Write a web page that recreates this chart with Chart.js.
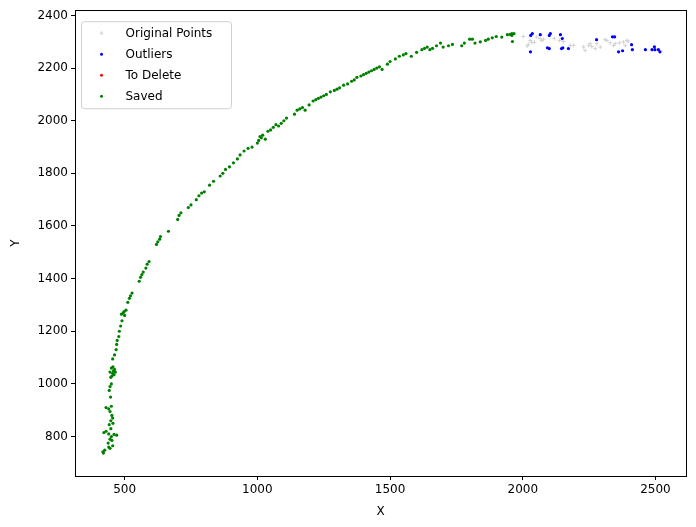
<!DOCTYPE html>
<html>
<head>
<meta charset="utf-8">
<script src="https://cdn.jsdelivr.net/npm/chart.js@4"></script>
<style>
  body { margin: 0; background: #fff; }
  #wrap { width: 696px; height: 527px; }
</style>
</head>
<body>
<div id="wrap"><canvas id="myChart" width="696" height="527"></canvas></div>
<script>
// tick labels
const xTicks = [500, 1000, 1500, 2000, 2500];
const yTicks = [800, 1000, 1200, 1400, 1600, 1800, 2000, 2200, 2400];

// original points (only the visible ones, the rest are hidden under the saved ones)
const originalX = [2002, 2021, 2017, 2028, 2034, 2044, 2053, 2065, 2072, 2078, 2119, 2138, 2153, 2179, 2191, 2229, 2235, 2248, 2254, 2260, 2273, 2279, 2292, 2310, 2317, 2329, 2342, 2348, 2364, 2379, 2386, 2392, 2398];
const originalY = [2320, 2290, 2284, 2305, 2298, 2298, 2318, 2312, 2305, 2309, 2312, 2305, 2301, 2286, 2286, 2280, 2267, 2286, 2293, 2282, 2274, 2293, 2280, 2308, 2305, 2296, 2286, 2293, 2296, 2299, 2286, 2305, 2302];

// outliers
const outlierX = [2030, 2036, 2029, 2066, 2100, 2104, 2093, 2100, 2142, 2149, 2146, 2151, 2172, 2278, 2338, 2346, 2361, 2376, 2410, 2413, 2462, 2487, 2496, 2498, 2511, 2517];
const outlierY = [2324, 2331, 2262, 2327, 2324, 2331, 2277, 2274, 2327, 2312, 2274, 2277, 2274, 2308, 2319, 2319, 2262, 2266, 2289, 2270, 2270, 2270, 2281, 2270, 2270, 2262];

// to delete (none)
const deleteX = [];
const deleteY = [];

// saved
const savedX = [418, 420, 425, 440, 445, 455, 438, 430, 422, 440, 450, 460, 470, 445, 452, 448,
  430, 440, 445, 452, 455, 448, 442, 456, 450, 447, 442, 445, 450, 448, 452, 455, 458, 462, 460, 445, 450, 465, 456,
  455, 462, 468, 470, 472, 478, 480, 485, 490, 488, 495, 500, 505, 498, 512, 518, 522, 528,
  555, 560, 565, 570, 580, 585, 592, 620, 625, 632, 635, 665,
  700, 705, 712, 740, 750, 770, 780, 790, 800, 820, 835, 860, 870, 880, 895, 910, 925, 935, 950, 965, 980,
  1000, 1005, 1010, 1015, 1020, 1030, 1040, 1050, 1060, 1070, 1080, 1090, 1100, 1110, 1140, 1150, 1160, 1170, 1180, 1195,
  1210, 1220, 1230, 1240, 1250, 1260, 1275, 1290, 1300, 1310, 1325, 1340, 1355, 1365, 1375, 1390, 1400, 1410, 1420, 1430,
  1440, 1450, 1460, 1470, 1490, 1500, 1520, 1535, 1550, 1560, 1580, 1600, 1620, 1630, 1640, 1650, 1660, 1675, 1690, 1700,
  1720, 1735, 1770, 1780, 1800, 1810, 1820, 1840, 1860, 1870, 1885, 1900, 1921, 1942, 1952, 1959, 1967, 1961, 1959];
const savedY = [742, 737, 748, 760, 755, 765, 775, 820, 815, 810, 800, 808, 805, 790, 785, 830,
  910, 905, 895, 880, 870, 860, 845, 850, 915, 950, 975, 990, 1000, 1025, 1030, 1040, 1050, 1055, 1035, 1045, 1060, 1045, 1065,
  1095, 1110, 1130, 1150, 1165, 1180, 1200, 1220, 1240, 1265, 1270, 1260, 1280, 1275, 1310, 1325, 1335, 1345,
  1390, 1405, 1415, 1425, 1440, 1455, 1465, 1530, 1540, 1550, 1560, 1580,
  1625, 1640, 1650, 1670, 1680, 1700, 1715, 1725, 1730, 1755, 1770, 1790, 1800, 1815, 1825, 1840, 1855, 1870, 1885, 1895, 1900,
  1915, 1925, 1940, 1935, 1945, 1930, 1960, 1965, 1975, 1985, 1980, 1990, 2000, 2010, 2025, 2040, 2045, 2050, 2040, 2060,
  2075, 2080, 2085, 2090, 2095, 2100, 2110, 2115, 2120, 2125, 2135, 2140, 2150, 2155, 2165, 2170, 2175, 2180, 2185, 2190,
  2195, 2200, 2205, 2195, 2215, 2225, 2235, 2245, 2250, 2255, 2245, 2260, 2270, 2275, 2280, 2270, 2275, 2285, 2295, 2280,
  2285, 2290, 2285, 2295, 2310, 2310, 2295, 2300, 2305, 2310, 2315, 2320, 2318, 2327, 2328, 2331, 2331, 2301, 2324];

const toPoints = (xs, ys) => xs.map((x, i) => ({ x: x, y: ys[i] }));

const fontFamily = "'DejaVu Sans', sans-serif";

// legend inside the axes + top/right spines, matplotlib style
const framePlugin = {
  id: 'frame',
  afterDraw(chart) {
    const { ctx, chartArea: a } = chart;
    ctx.save();
    ctx.strokeStyle = '#000';
    ctx.lineWidth = 1;
    ctx.strokeRect(Math.round(a.left) + 0.5, Math.round(a.top) + 0.5,
      Math.round(a.right - a.left), Math.round(a.bottom - a.top));

    const bx = a.left + 6.5, by = a.top + 11.5, bw = 150, bh = 87;
    ctx.fillStyle = 'rgba(255,255,255,0.8)';
    ctx.strokeStyle = '#d0d0d0';
    ctx.beginPath();
    ctx.roundRect(bx, by, bw, bh, 3);
    ctx.fill();
    ctx.stroke();

    ctx.font = '12px ' + fontFamily;
    ctx.textBaseline = 'middle';
    chart.data.datasets.forEach((ds, i) => {
      const cy = by + 11.5 + i * 21;
      const mx = bx + 20;
      if (ds.pointStyle === 'cross') {
        ctx.strokeStyle = ds.borderColor;
        ctx.beginPath();
        ctx.moveTo(mx - 2, cy); ctx.lineTo(mx + 2, cy);
        ctx.moveTo(mx, cy - 2); ctx.lineTo(mx, cy + 2);
        ctx.stroke();
      } else {
        ctx.fillStyle = ds.backgroundColor;
        ctx.beginPath();
        ctx.arc(mx, cy, 1.5, 0, Math.PI * 2);
        ctx.fill();
      }
      ctx.fillStyle = '#000';
      ctx.fillText(ds.label, bx + 44, cy + 1);
    });
    ctx.restore();
  }
};

const ctx = document.getElementById('myChart').getContext('2d');
const myChart = new Chart(ctx, {
  type: 'scatter',
  data: {
    datasets: [
      { label: 'Original Points', data: toPoints(originalX, originalY), pointStyle: 'cross',
        pointRadius: 2, borderColor: '#d3d3d3', backgroundColor: '#d3d3d3', borderWidth: 1 },
      { label: 'Outliers', data: toPoints(outlierX, outlierY), pointRadius: 1.6,
        borderWidth: 0, backgroundColor: '#0000ff', borderColor: '#0000ff' },
      { label: 'To Delete', data: toPoints(deleteX, deleteY), pointRadius: 1.6,
        borderWidth: 0, backgroundColor: '#ff0000', borderColor: '#ff0000' },
      { label: 'Saved', data: toPoints(savedX, savedY), pointRadius: 1.6,
        borderWidth: 0, backgroundColor: '#008000', borderColor: '#008000' }
    ]
  },
  options: {
    responsive: false,
    animation: false,
    events: [],
    layout: { padding: { top: 8, right: 10, left: 9, bottom: 8 } },
    plugins: {
      legend: { display: false },
      tooltip: { enabled: false }
    },
    scales: {
      x: {
        type: 'linear',
        min: 313,
        max: 2615,
        afterBuildTicks: (s) => { s.ticks = xTicks.map(v => ({ value: v })); },
        afterFit: (s) => { s.height = 43; },
        grid: { display: true, drawOnChartArea: false, color: '#000', tickLength: 4, tickWidth: 1 },
        border: { display: true, color: '#000', width: 1 },
        ticks: { color: '#000', font: { family: fontFamily, size: 12 }, padding: 3, maxRotation: 0,
          callback: (v) => String(v) },
        title: { display: true, text: 'X', color: '#000', font: { family: fontFamily, size: 12 }, padding: { top: 2, bottom: 0 } }
      },
      y: {
        type: 'linear',
        min: 650,
        max: 2420,
        afterBuildTicks: (s) => { s.ticks = yTicks.map(v => ({ value: v })); },
        afterFit: (s) => { s.width = 66; },
        grid: { display: true, drawOnChartArea: false, color: '#000', tickLength: 4, tickWidth: 1 },
        border: { display: true, color: '#000', width: 1 },
        ticks: { color: '#000', font: { family: fontFamily, size: 12 }, padding: 3,
          callback: (v) => String(v) },
        title: { display: true, text: 'Y', color: '#000', font: { family: fontFamily, size: 12 }, padding: { top: 0, bottom: 8 } }
      }
    }
  },
  plugins: [framePlugin]
});
</script>
</body>
</html>
